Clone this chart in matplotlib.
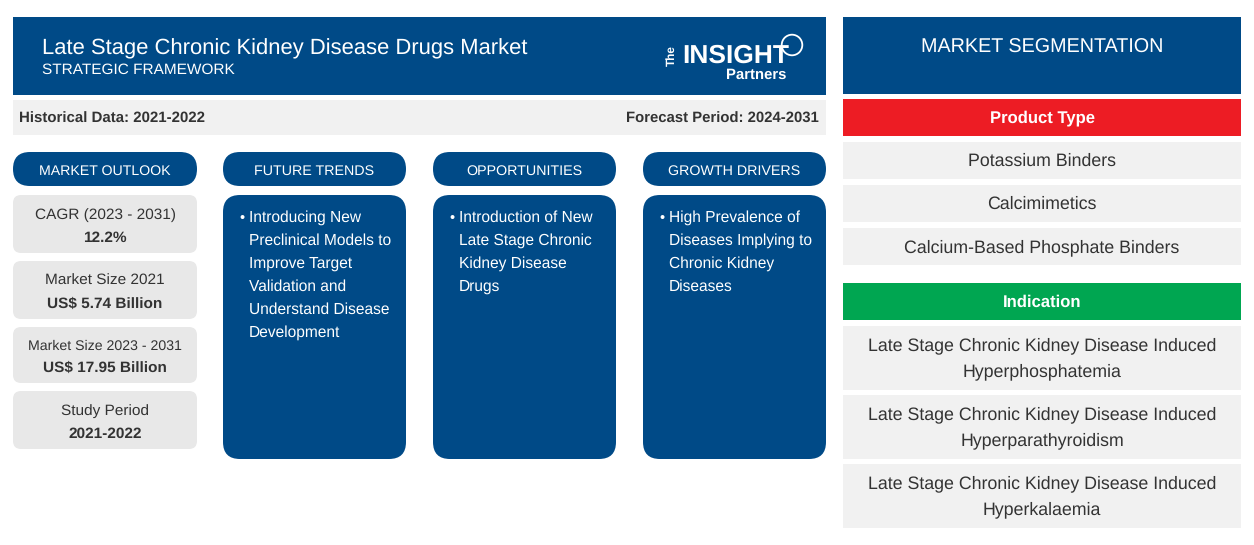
import matplotlib
matplotlib.use('Agg')
import matplotlib.pyplot as plt
from matplotlib.patches import Rectangle, FancyBboxPatch, Circle

plt.rcParams['font.family'] = ['Liberation Sans', 'DejaVu Sans']
plt.rcParams['text.hinting'] = 'none'

BLUE = '#004a87'
GREY = '#f1f1f1'
CARD = '#e8e8e8'
DARK = '#333333'
RED = '#ed1c24'
GREEN = '#00a651'

title = 'Late Stage Chronic Kidney Disease Drugs Market'
subtitle = 'STRATEGIC FRAMEWORK'
historical = 'Historical Data: 2021-2022'
forecast = 'Forecast Period: 2024-2031'

outlook_labels = ['CAGR (2023 - 2031)', 'Market Size 2021', 'Market Size 2023 - 2031', 'Study Period']
outlook_values = ['12.2%', 'US$ 5.74 Billion', 'US$ 17.95 Billion', '2021-2022']

column_heads = ['FUTURE TRENDS', 'OPPORTUNITIES', 'GROWTH DRIVERS']
column_lines = [
    ['Introducing New', 'Preclinical Models to', 'Improve Target', 'Validation and',
     'Understand Disease', 'Development'],
    ['Introduction of New', 'Late Stage Chronic', 'Kidney Disease', 'Drugs'],
    ['High Prevalence of', 'Diseases Implying to', 'Chronic Kidney', 'Diseases'],
]

products = ['Potassium Binders', 'Calcimimetics', 'Calcium-Based Phosphate Binders']
indications = [
    'Late Stage Chronic Kidney Disease Induced\nHyperphosphatemia',
    'Late Stage Chronic Kidney Disease Induced\nHyperparathyroidism',
    'Late Stage Chronic Kidney Disease Induced\nHyperkalaemia',
]


def rect(ax, x0, y0, x1, y1, color):
    ax.add_patch(Rectangle((x0, y0), x1 - x0, y1 - y0, fc=color, ec='none'))


def rounded(ax, x0, y0, x1, y1, r, color):
    ax.add_patch(FancyBboxPatch((x0 + r, y0 + r), x1 - x0 - 2 * r, y1 - y0 - 2 * r,
                                boxstyle='round,pad={},rounding_size={}'.format(r, r),
                                fc=color, ec='none'))


def label(ax, x, y, s, size=12, color=DARK, weight='normal', ha='center', spacing=1.35):
    ax.text(x, y + 1, s, fontsize=size, color=color, fontweight=weight, ha=ha, va='center',
            linespacing=spacing)


def main():
    fig = plt.figure(figsize=(12.54, 5.45), dpi=100)
    ax = fig.add_axes([0, 0, 1, 1])
    ax.set_xlim(0, 1254)
    ax.set_ylim(545, 0)
    ax.axis('off')

    # header band
    rect(ax, 13, 17, 826, 95, BLUE)
    label(ax, 42, 48, title, size=15.8, color='white', ha='left')
    label(ax, 42, 69, subtitle, size=11.1, color='white', ha='left')

    # logo
    ax.text(672, 56, 'The', fontsize=8.5, color='white', fontweight='bold', rotation=90,
            ha='center', va='center')
    label(ax, 736, 55, 'INSIGHT', size=19, color='white', weight='bold')
    label(ax, 756, 73.5, 'Partners', size=10.7, color='white', weight='bold')
    ax.add_patch(Circle((792, 45), 10.3, fc='none', ec='white', lw=1.3))

    # period strip
    rect(ax, 13, 100, 826, 135, GREY)
    label(ax, 19, 117.5, historical, size=10.8, weight='bold', ha='left')
    label(ax, 819, 117.5, forecast, size=10.7, weight='bold', ha='right')

    # market outlook column
    rounded(ax, 13, 152, 197, 186, 17, BLUE)
    label(ax, 105, 170, 'MARKET OUTLOOK', size=10.2, color='white')
    tops = [195, 261, 327, 391]
    bottoms = [253, 319, 383, 449]
    label_y = [214, 280, 345, 410]
    value_y = [237, 303, 367, 433]
    sizes = [11.1, 11.1, 10.2, 11.1]
    for i in range(len(outlook_labels)):
        rounded(ax, 13, tops[i], 197, bottoms[i], 8, CARD)
        label(ax, 105, label_y[i], outlook_labels[i], size=sizes[i])
        label(ax, 105, value_y[i], outlook_values[i], size=11.1, weight='bold')

    # trend columns
    lefts = [223, 433, 643]
    for left, head, lines in zip(lefts, column_heads, column_lines):
        rounded(ax, left, 152, left + 183, 186, 17, BLUE)
        label(ax, left + 91.5, 170, head, size=10.25, color='white')
        rounded(ax, left, 195, left + 183, 459, 17, BLUE)
        label(ax, left + 19, 217, '\u2022', size=10.5, color='white')
        for k, line in enumerate(lines):
            ax.text(left + 26, 216 + k * 23, line, fontsize=11.2, color='white', ha='left',
                    va='center_baseline')

    # segmentation panel
    rect(ax, 843, 17, 1241, 94, BLUE)
    label(ax, 1042, 47, 'MARKET SEGMENTATION', size=14.2, color='white')

    rect(ax, 843, 99, 1241, 136, RED)
    label(ax, 1042, 117, 'Product Type', size=12, color='white', weight='bold')
    product_top = [142, 185, 228]
    for y, name in zip(product_top, products):
        rect(ax, 843, y, 1241, y + 37, GREY)
        label(ax, 1042, y + 18.5, name, size=12.75)

    rect(ax, 843, 283, 1241, 320, GREEN)
    label(ax, 1042, 301, 'Indication', size=12, color='white', weight='bold')
    indication_top = [326, 395, 464]
    for y, name in zip(indication_top, indications):
        rect(ax, 843, y, 1241, y + 64, GREY)
        label(ax, 1042, y + 31.5, name, size=12.75, spacing=1.74)

    fig.savefig('out.png', dpi=100)


if __name__ == '__main__':
    main()
